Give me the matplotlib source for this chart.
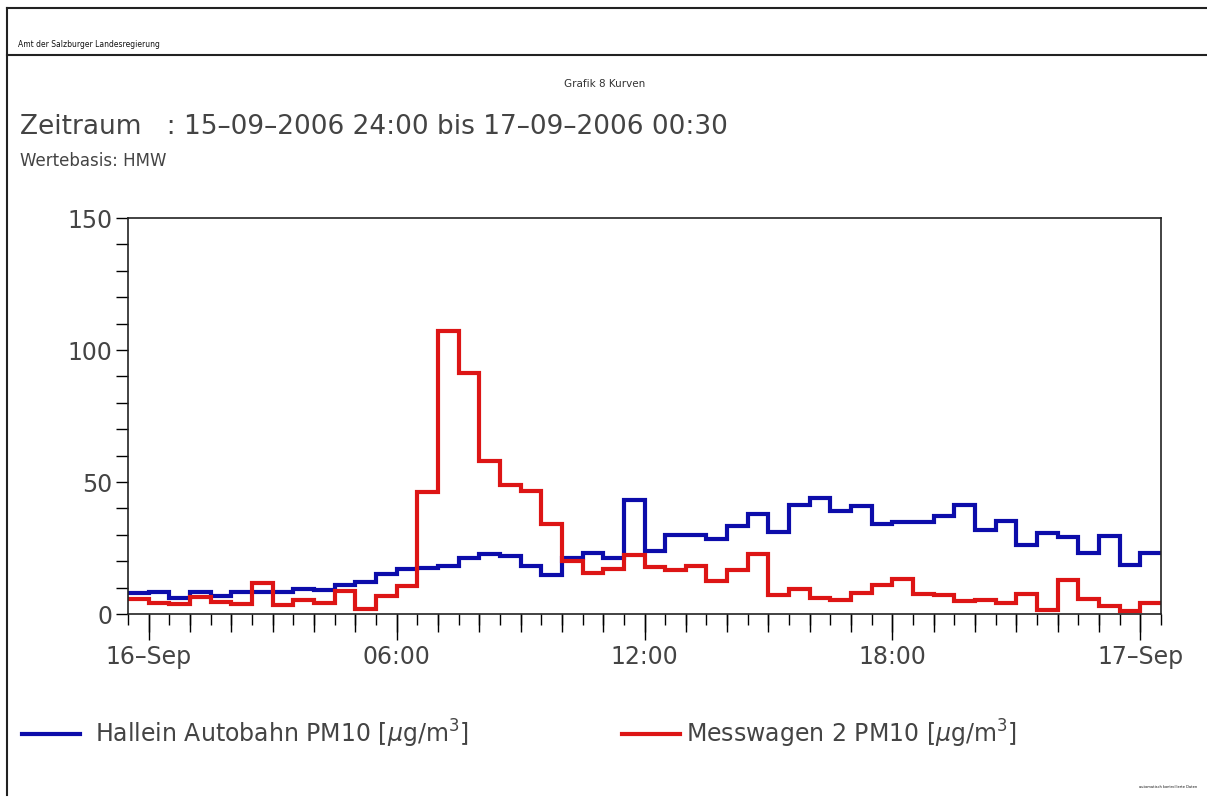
import numpy as np
import pandas as pd
import matplotlib
matplotlib.use('Agg')
import matplotlib.pyplot as plt
import matplotlib.dates as mdates
from matplotlib.ticker import FuncFormatter, MultipleLocator, NullFormatter
from matplotlib.lines import Line2D

# half-hour means (HMW), stamped at the end of each interval
times = pd.date_range('2006-09-16 00:00', '2006-09-17 00:30', freq='30min')

hallein = [8.1, 8.5, 6.2, 8.5, 6.7, 8.5, 8.2, 8.3, 9.3, 9.0,
           10.9, 12.3, 15.2, 17.1, 17.6, 18.3, 21.3, 22.7, 22.0, 18.2,
           14.6, 21.1, 23.2, 21.3, 43.3, 23.8, 30.0, 30.0, 28.4, 33.5,
           38.0, 31.2, 41.3, 43.8, 38.9, 41.0, 34.1, 35.0, 35.0, 37.1,
           41.4, 31.7, 35.2, 26.1, 30.6, 29.0, 23.2, 29.7, 18.4, 23.2]
messwagen = [5.5, 4.3, 3.8, 6.3, 4.4, 3.8, 11.9, 3.4, 5.2, 4.3,
             8.8, 1.8, 6.9, 10.5, 46.3, 107.2, 91.4, 57.8, 48.9, 46.6,
             34.1, 20.2, 15.7, 17.0, 22.3, 17.7, 16.6, 18.2, 12.4, 16.7,
             22.8, 7.2, 9.5, 6.1, 5.2, 7.8, 10.9, 13.3, 7.7, 7.2,
             4.9, 5.3, 4.3, 7.7, 1.5, 12.8, 5.7, 2.9, 1.0, 4.3]

labels = ['Hallein Autobahn PM10 [$\\mu$g/m$^3$]', 'Messwagen 2 PM10 [$\\mu$g/m$^3$]']
colors = ['#0c0caa', '#dd1515']
yticks = [0, 50, 100, 150]

W, H = 1207, 800
fig = plt.figure(figsize=(W / 100, H / 100), dpi=100)
plt.rcParams['font.family'] = ['DejaVu Sans']
txt = '#444444'

def fx(px):
    return px / W

def fy(py):
    return 1 - py / H

# page frame
fig.add_artist(Line2D([fx(7), fx(7)], [fy(8), fy(795)], color='#222222', lw=1.5, transform=fig.transFigure))
fig.add_artist(Line2D([fx(7), 1], [fy(8), fy(8)], color='#222222', lw=1.5, transform=fig.transFigure))
fig.add_artist(Line2D([fx(7), 1], [fy(55), fy(55)], color='#222222', lw=1.5, transform=fig.transFigure))

fig.text(fx(18), fy(47), 'Amt der Salzburger Landesregierung', fontsize=5.5, color='#111111', va='baseline')
fig.text(fx(605), fy(84), 'Grafik 8 Kurven', fontsize=7.5, color='#333333', ha='center', va='center')
fig.text(fx(20), fy(134), 'Zeitraum   : 15–09–2006 24:00 bis 17–09–2006 00:30',
         fontsize=19, color=txt, va='baseline')
fig.text(fx(20), fy(166), 'Wertebasis: HMW', fontsize=12, color=txt, va='baseline')

ax = fig.add_axes([fx(128), fy(614), fx(1161) - fx(128), fy(218) - fy(614)])

edges = mdates.date2num(pd.date_range(times[0] - pd.Timedelta('30min'), times[-1], freq='30min'))
for vals, c in zip([hallein, messwagen], colors):
    ax.stairs(vals, edges, baseline=None, color=c, lw=3)

ax.set_xlim(edges[0], edges[-1])
ax.set_ylim(0, 150)

ax.set_yticks(yticks)
ax.yaxis.set_minor_locator(MultipleLocator(10))
ax.tick_params(axis='y', which='both', direction='out', length=9, width=1, pad=2,
               labelsize=17, labelcolor=txt)


def fmt(x, pos):
    d = mdates.num2date(x)
    if d.hour == 0:
        return '%d–Sep' % d.day
    return d.strftime('%H:%M')


ax.xaxis.set_major_locator(mdates.HourLocator(byhour=[0, 6, 12, 18]))
ax.xaxis.set_major_formatter(FuncFormatter(fmt))
ax.xaxis.set_minor_locator(mdates.MinuteLocator(byminute=[0, 30]))
ax.tick_params(axis='x', which='major', direction='out', length=19, width=1, pad=3,
               labelsize=17, labelcolor=txt)
ax.tick_params(axis='x', which='minor', direction='out', length=8, width=1)

sec = ax.secondary_xaxis('bottom')
sec.xaxis.set_major_locator(mdates.HourLocator())
sec.xaxis.set_major_formatter(NullFormatter())
sec.tick_params(length=13, width=1)
sec.spines['bottom'].set_visible(False)

for s in ax.spines.values():
    s.set_color('#222222')
    s.set_linewidth(1.2)

# legend drawn as a row under the chart
leg_x = [(22, 80, 95), (622, 680, 686)]
for (x0, x1, xt), lab, c in zip(leg_x, labels, colors):
    fig.add_artist(Line2D([fx(x0), fx(x1)], [fy(734), fy(734)], color=c, lw=3, transform=fig.transFigure))
    fig.text(fx(xt), fy(734), lab, fontsize=17, color=txt, va='center')

fig.text(fx(1197), fy(788), 'automatisch kontrollierte Daten', fontsize=2.6, color='#111111',
         ha='right', va='baseline')

fig.savefig('out.png', dpi=100)
